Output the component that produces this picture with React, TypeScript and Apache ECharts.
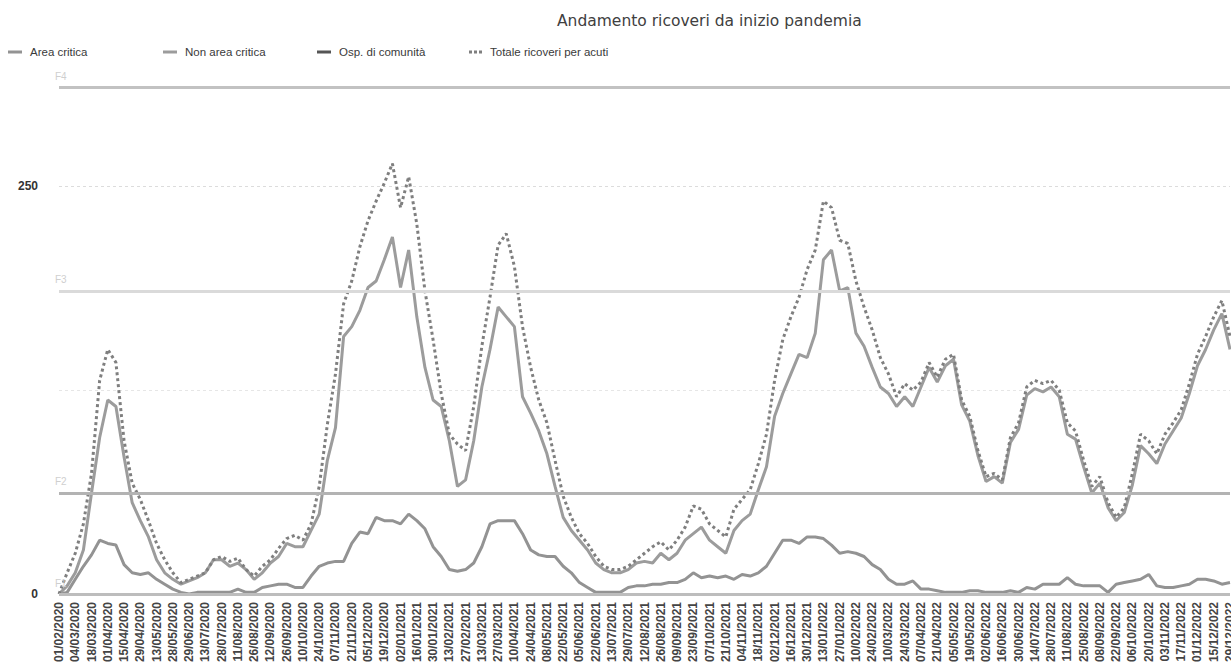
import React, { useEffect, useRef } from "react";
import * as echarts from "echarts";

const dates: string[] = [
  "01/02/2020","17/02/2020","04/03/2020","11/03/2020","18/03/2020","25/03/2020","01/04/2020","08/04/2020","15/04/2020","22/04/2020",
  "29/04/2020","06/05/2020","13/05/2020","20/05/2020","28/05/2020","13/06/2020","29/06/2020","06/07/2020","13/07/2020","20/07/2020",
  "28/07/2020","04/08/2020","11/08/2020","18/08/2020","26/08/2020","04/09/2020","12/09/2020","19/09/2020","26/09/2020","03/10/2020",
  "10/10/2020","17/10/2020","24/10/2020","31/10/2020","07/11/2020","14/11/2020","21/11/2020","28/11/2020","05/12/2020","12/12/2020",
  "19/12/2020","26/12/2020","02/01/2021","09/01/2021","16/01/2021","23/01/2021","30/01/2021","06/02/2021","13/02/2021","20/02/2021",
  "27/02/2021","06/03/2021","13/03/2021","20/03/2021","27/03/2021","03/04/2021","10/04/2021","17/04/2021","24/04/2021","01/05/2021",
  "08/05/2021","15/05/2021","22/05/2021","29/05/2021","05/06/2021","13/06/2021","22/06/2021","02/07/2021","13/07/2021","21/07/2021",
  "29/07/2021","05/08/2021","12/08/2021","19/08/2021","26/08/2021","02/09/2021","09/09/2021","16/09/2021","23/09/2021","30/09/2021",
  "07/10/2021","14/10/2021","21/10/2021","28/10/2021","04/11/2021","11/11/2021","18/11/2021","25/11/2021","02/12/2021","09/12/2021",
  "16/12/2021","23/12/2021","30/12/2021","06/01/2022","13/01/2022","20/01/2022","27/01/2022","03/02/2022","10/02/2022","17/02/2022",
  "24/02/2022","03/03/2022","10/03/2022","17/03/2022","24/03/2022","31/03/2022","07/04/2022","14/04/2022","21/04/2022","28/04/2022",
  "05/05/2022","12/05/2022","19/05/2022","26/05/2022","02/06/2022","09/06/2022","16/06/2022","23/06/2022","30/06/2022","07/07/2022",
  "14/07/2022","21/07/2022","28/07/2022","04/08/2022","11/08/2022","18/08/2022","25/08/2022","01/09/2022","08/09/2022","15/09/2022",
  "22/09/2022","29/09/2022","06/10/2022","13/10/2022","20/10/2022","27/10/2022","03/11/2022","10/11/2022","17/11/2022","24/11/2022",
  "01/12/2022","08/12/2022","15/12/2022","22/12/2022","29/12/2022"
];

const areaCritica: number[] = [
  0,1,9,17,24,33,31,30,18,13,12,13,9,6,3,1,0,1,1,1,1,1,3,1,1,4,5,6,6,4,4,11,17,19,20,20,
  31,38,37,47,45,45,43,49,45,40,29,23,15,14,15,19,29,43,45,45,45,37,27,24,23,23,17,13,7,4,1,1,1,1,4,5,
  5,6,6,7,7,9,13,10,11,10,11,9,12,11,13,17,25,33,33,31,35,35,34,30,25,26,25,23,18,15,9,6,6,8,3,3,
  2,1,1,1,2,2,1,1,1,2,1,4,3,6,6,6,10,6,5,5,5,1,6,7,8,9,12,5,4,4,5,6,9,9,8,6,7
];

const nonAreaCritica: number[] = [
  0,5,13,27,62,96,119,115,84,56,45,35,21,13,9,6,8,10,13,21,21,17,19,15,9,13,19,23,31,29,29,39,49,82,102,158,
  164,174,188,192,205,219,188,211,170,139,119,115,94,66,70,94,127,150,176,170,164,121,111,100,86,66,47,39,33,27,19,15,13,13,15,19,
  20,19,25,21,25,33,37,41,33,29,25,39,45,49,64,78,109,123,135,147,145,160,205,211,186,188,160,152,139,127,123,115,121,115,127,139,
  130,140,144,116,106,85,69,72,68,93,101,122,126,124,127,121,98,95,78,62,68,53,45,50,67,91,86,80,92,100,108,123,140,150,162,172,150
];

const ospComunita: (number | null)[] = [];

const totaleAcuti: number[] = [
  0,13,25,43,74,131,150,142,94,68,58,45,31,21,13,7,9,11,13,21,23,20,22,15,11,17,21,28,34,36,33,43,66,104,135,178,
  192,213,229,241,252,264,237,256,227,186,156,123,98,92,88,115,152,182,214,221,201,164,139,119,105,82,60,47,37,31,23,17,15,15,17,21,
  25,29,32,27,33,41,54,52,43,39,35,52,58,64,80,98,131,156,170,182,199,211,241,237,217,215,192,176,162,145,135,121,129,125,130,142,
  133,144,147,119,109,88,72,74,70,96,105,127,131,129,131,125,105,100,82,66,72,56,47,53,74,98,94,86,98,105,113,129,147,158,170,180,158
];

const thresholdLabels: string[] = ["F1", "F2", "F3", "F4"];
const thresholdValues: number[] = [0, 62, 186, 311];
const yLabelValues: number[] = [0, 250];

const seriesNames: string[] = ["Area critica", "Non area critica", "Osp. di comunità", "Totale ricoveri per acuti"];

export default function App() {
  const ref = useRef<HTMLDivElement>(null);

  useEffect(() => {
    if (!ref.current) return;
    const chart = echarts.init(ref.current, undefined, { renderer: "svg" });
    const thresholdColors = ["#bdbdbd", "#b3b3b3", "#dadada", "#c2c2c2"];
    const seriesColors = ["#939393", "#9c9c9c", "#555555", "#7f7f7f"];
    const legendLefts = [3, 158, 312, 464];
    const dottedIcon = "path://M0,0h3v3h-3z M5,0h3v3h-3z M10,0h3v3h-3z";
    const yMax = Math.max(...thresholdValues);

    const legends = seriesNames.map((name, i) => ({
      left: legendLefts[i],
      top: 41,
      itemWidth: i === 3 ? 13 : 14,
      itemHeight: 3,
      itemGap: 0,
      data: [{ name, icon: i === 3 ? dottedIcon : "rect" }],
      textStyle: { fontFamily: "Liberation Sans, Arial", fontSize: 11.5, color: "#3a3a3a", padding: [0, 0, 0, 3] },
    }));

    const option: any = {
      animation: false,
      backgroundColor: "#ffffff",
      title: {
        text: "Andamento ricoveri da inizio pandemia",
        left: 552,
        top: 8,
        textStyle: { fontFamily: "DejaVu Sans", fontSize: 15.5, fontWeight: "normal", color: "#404040" },
      },
      legend: legends,
      grid: { left: 59, right: 60, top: 87, bottom: 74 },
      xAxis: {
        type: "category",
        data: dates,
        boundaryGap: false,
        axisLine: { show: false },
        axisTick: { show: false },
        splitLine: { show: false },
        axisLabel: {
          rotate: 90,
          interval: 1,
          margin: 8,
          fontFamily: "Liberation Sans, Arial",
          fontSize: 12,
          fontWeight: "bold",
          color: "#444",
          hideOverlap: false,
        },
      },
      yAxis: {
        type: "value",
        min: 0,
        max: yMax,
        interval: 125,
        axisLine: { show: false },
        axisTick: { show: false },
        axisLabel: {
          showMaxLabel: false,
          margin: 21,
          fontFamily: "Liberation Sans, Arial",
          fontSize: 12,
          fontWeight: "bold",
          color: "#333",
          formatter: (v: number) => (yLabelValues.indexOf(v) >= 0 ? String(v) : ""),
        },
        splitLine: {
          show: true,
          lineStyle: {
            color: ["rgba(0,0,0,0)", "#e6e6e6", "#dcdcdc", "rgba(0,0,0,0)"],
            type: [3, 3],
            width: 1,
          },
        },
      },
      series: [
        {
          name: seriesNames[0],
          type: "line",
          data: areaCritica,
          symbol: "none",
          lineStyle: { color: seriesColors[0], width: 3 },
          itemStyle: { color: seriesColors[0] },
          markLine: {
            silent: true,
            symbol: "none",
            animation: false,
            label: {
              show: true,
              position: "insideStartTop",
              distance: [-4, 6],
              formatter: "{b}",
              color: "#cfcfcf",
              fontSize: 10,
              fontFamily: "Liberation Sans, Arial",
            },
            data: thresholdValues.map((v, i) => ({
              name: thresholdLabels[i],
              yAxis: v,
              lineStyle: { color: thresholdColors[i], width: 3, type: "solid" },
            })),
          },
        },
        {
          name: seriesNames[1],
          type: "line",
          data: nonAreaCritica,
          symbol: "none",
          lineStyle: { color: seriesColors[1], width: 3 },
          itemStyle: { color: seriesColors[1] },
        },
        {
          name: seriesNames[2],
          type: "line",
          data: ospComunita,
          symbol: "none",
          lineStyle: { color: seriesColors[2], width: 3 },
          itemStyle: { color: seriesColors[2] },
        },
        {
          name: seriesNames[3],
          type: "line",
          data: totaleAcuti,
          symbol: "none",
          lineStyle: { color: seriesColors[3], width: 3, type: "dotted" },
          itemStyle: { color: seriesColors[3] },
        },
      ],
    };
    chart.setOption(option);
    return () => chart.dispose();
  }, []);

  return (
    <div style={{ position: "fixed", left: 0, top: 0, width: 1231, height: 668, overflow: "hidden", background: "#fff" }}>
      <div ref={ref} style={{ width: 1290, height: 668 }} />
    </div>
  );
}
